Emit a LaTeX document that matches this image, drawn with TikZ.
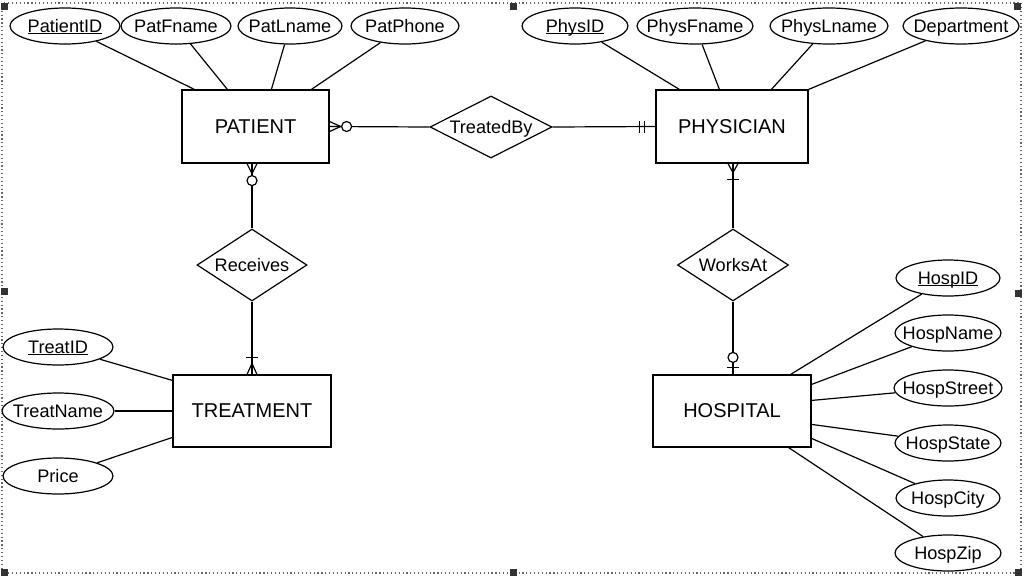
\documentclass[tikz,border=0pt]{standalone}
\usepackage{fontspec}
\setmainfont{Liberation Sans}
\usetikzlibrary{shapes.geometric,calc}
\newcommand\myul[1]{{\setbox0\hbox{#1}\rlap{\rule[-1.6pt]{\wd0}{0.7pt}}\box0}}
\newcommand\zw[1]{\makebox[0pt]{\raisebox{-4.7pt}[0pt][0pt]{#1}}}
\newcommand\zb[1]{\makebox[0pt]{\raisebox{-4.9pt}[0pt][0pt]{#1}}}
\begin{document}
\begin{tikzpicture}[x=0.75pt,y=-0.75pt,line width=0.9pt,
  attr/.style={ellipse,draw,inner sep=0pt,minimum height=36*0.75pt,font=\fontsize{13.6}{15}\selectfont},
  ent/.style={rectangle,draw,inner sep=0pt,minimum height=73*0.75pt,font=\fontsize{15}{17}\selectfont},
  rel/.style={diamond,draw,aspect=2,inner sep=0pt,font=\fontsize{13.6}{15}\selectfont}]
\useasboundingbox (0,0) rectangle (1024,576);
% frame
\draw[dotted,line width=0.9pt,black!60] (2,3) rectangle (1021,573);
\foreach \hx/\hy in {4/6,513/6,1017/6,4/291,1018/293,4/572,513/572,1018/572}
  \fill[black!80] (\hx-3.5,\hy-3.5) rectangle (\hx+3.5,\hy+3.5);

% entities
\node[ent,minimum width=147*0.75pt] (pat) at (255.5,126.5) {PATIENT};
\node[ent,minimum width=152*0.75pt] (phy) at (732,126.5) {PHYSICIAN};
\node[ent,minimum width=158*0.75pt,minimum height=72*0.75pt] (trt) at (252,411) {TREATMENT};
\node[ent,minimum width=158*0.75pt,minimum height=72*0.75pt] (hos) at (732,411) {HOSPITAL};

% relationships
\node[rel,minimum width=122*0.75pt,minimum height=62*0.75pt] (tb) at (491,127) {\zb{TreatedBy}};
\node[rel,minimum width=110*0.75pt,minimum height=72*0.75pt] (rc) at (252,265) {\zb{Receives}};
\node[rel,minimum width=111*0.75pt,minimum height=72*0.75pt] (wa) at (733,265) {\zb{WorksAt}};

% attributes
\node[attr,minimum width=110*0.75pt] (pid) at (65,26) {\zw{\myul{PatientID}}};
\node[attr,minimum width=110*0.75pt] (pfn) at (176,26) {\zw{PatFname}};
\node[attr,minimum width=104*0.75pt] (pln) at (290,26) {\zw{PatLname}};
\node[attr,minimum width=108*0.75pt] (pph) at (405,26) {\zw{PatPhone}};
\node[attr,minimum width=106*0.75pt] (phid) at (575,26) {\zw{\myul{PhysID}}};
\node[attr,minimum width=116*0.75pt] (phfn) at (695,26) {\zw{PhysFname}};
\node[attr,minimum width=118*0.75pt] (phln) at (829,26) {\zw{PhysLname}};
\node[attr,minimum width=116*0.75pt] (dep) at (961,26) {\zw{Department}};
\node[attr,minimum width=110*0.75pt] (tid) at (58,347) {\zw{\myul{TreatID}}};
\node[attr,minimum width=112*0.75pt] (tnm) at (58,411) {\zw{TreatName}};
\node[attr,minimum width=110*0.75pt] (pri) at (58,476) {\zw{Price}};
\node[attr,minimum width=104*0.75pt] (hid) at (948,278) {\zw{\myul{HospID}}};
\node[attr,minimum width=106*0.75pt] (hnm) at (948,333) {\zw{HospName}};
\node[attr,minimum width=108*0.75pt] (hst) at (948,388) {\zw{HospStreet}};
\node[attr,minimum width=106*0.75pt] (hsa) at (948,443) {\zw{HospState}};
\node[attr,minimum width=104*0.75pt] (hci) at (948,498) {\zw{HospCity}};
\node[attr,minimum width=106*0.75pt] (hzp) at (948,553) {\zw{HospZip}};

% attribute links
\draw (pid) -- ($(pat.north west)+(13,0)$);
\draw (pfn) -- ($(pat.north west)+(46,0)$);
\draw (pln) -- ($(pat.north west)+(90,0)$);
\draw (pph) -- ($(pat.north west)+(130,0)$);
\draw (phid) -- ($(phy.north west)+(24,0)$);
\draw (phfn) -- ($(phy.north west)+(64,0)$);
\draw (phln) -- ($(phy.north west)+(116,0)$);
\draw (dep) -- (phy.north east);
\draw (tid) -- ($(trt.north west)+(0,6)$);
\draw (tnm) -- (trt.west);
\draw (pri) -- ($(trt.north west)+(0,63)$);
\draw (hid) -- ($(hos.north east)+(-21,0)$);
\draw (hnm) -- ($(hos.north east)+(0,10)$);
\draw (hst) -- ($(hos.north east)+(0,26)$);
\draw (hsa) -- ($(hos.north east)+(0,50)$);
\draw (hci) -- ($(hos.north east)+(0,64)$);
\draw (hzp) -- ($(hos.south east)+(-23,0)$);

% TreatedBy
\coordinate (pe) at (pat.east);
\coordinate (pw) at (phy.west);
\draw (pe) -- (tb.west);
\draw (tb.east) -- (pw);
\draw ($(pe)+(0,-5)$) -- ($(pe)+(11,0)$) -- ($(pe)+(0,5)$);
\draw[fill=white] ($(pe)+(17,0)$) circle[radius=5];
\draw ($(pw)+(-16,-6)$) -- ($(pw)+(-16,6)$);
\draw ($(pw)+(-11,-6)$) -- ($(pw)+(-11,6)$);

% Receives
\coordinate (ps) at (rc.north |- pat.south);
\coordinate (tn) at (rc.south |- trt.north);
\draw (ps) -- (rc.north);
\draw (rc.south) -- (tn);
\draw ($(ps)+(-5,0)$) -- ($(ps)+(0,10)$) -- ($(ps)+(5,0)$);
\draw[fill=white] ($(ps)+(0,17)$) circle[radius=5];
\draw ($(tn)+(-5,0)$) -- ($(tn)+(0,-11)$) -- ($(tn)+(5,0)$);
\draw ($(tn)+(-6,-17)$) -- ($(tn)+(6,-17)$);

% WorksAt
\coordinate (ys) at (wa.north |- phy.south);
\coordinate (hn) at (wa.south |- hos.north);
\draw (ys) -- (wa.north);
\draw (wa.south) -- (hn);
\draw ($(ys)+(-5,0)$) -- ($(ys)+(0,9)$) -- ($(ys)+(5,0)$);
\draw ($(ys)+(-6,16)$) -- ($(ys)+(6,16)$);
\draw[fill=white] ($(hn)+(0,-17)$) circle[radius=5];
\draw ($(hn)+(-6,-7)$) -- ($(hn)+(6,-7)$);
\end{tikzpicture}
\end{document}
